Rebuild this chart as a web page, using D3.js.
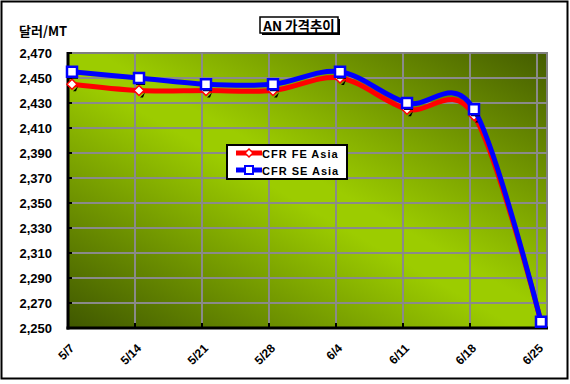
<!DOCTYPE html>
<html><head><meta charset="utf-8">
<script src="https://cdn.jsdelivr.net/npm/d3@7/dist/d3.min.js"></script>
<style>
html,body{margin:0;padding:0;background:#fff;}
svg{display:block;}
</style></head>
<body>
<svg id="c" width="570" height="384"></svg>
<script>
const categories = ["5/7","5/14","5/21","5/28","6/4","6/11","6/18","6/25"];
const cfrFE = [2445,2440,2440,2440,2450,2425,2420,2255];
const cfrSE = [2455,2450,2445,2445,2455,2430,2425,2255];
const yTicks = [2250,2270,2290,2310,2330,2350,2370,2390,2410,2430,2450,2470];
const seriesNames = ["CFR FE Asia","CFR SE Asia"];
const chartTitle = "AN 가격추이";
const yUnit = "달러/MT";

const svg = d3.select("#c");
const L = 68, R = 547, T = 53, B = 328;

const defs = svg.append("defs");
const g = defs.append("linearGradient").attr("id","bg")
  .attr("x1","0").attr("y1","1").attr("x2","1").attr("y2","0");
g.append("stop").attr("offset","0").attr("stop-color","#3f5700");
g.append("stop").attr("offset","0.47").attr("stop-color","#9ccc00");
g.append("stop").attr("offset","0.53").attr("stop-color","#9ccc00");
g.append("stop").attr("offset","1").attr("stop-color","#445c00");

// outer border
svg.append("rect").attr("x",1.5).attr("y",1.5).attr("width",566).attr("height",377)
  .attr("fill","#fff").attr("stroke","#000").attr("stroke-width",2);

const y = d3.scaleLinear().domain([2250,2470]).range([B,T]);
const x = d3.scalePoint().domain(categories).range([72,541]);
const xg = d3.scalePoint().domain(categories).range([68,537]);

// plot area
svg.append("rect").attr("x",L).attr("y",T).attr("width",R-L).attr("height",B-T)
  .attr("fill","url(#bg)").attr("stroke","#808080").attr("stroke-width",2);

// gridlines
svg.append("g").selectAll("line").data(yTicks.slice(1,-1)).join("line")
  .attr("x1",L).attr("x2",R).attr("y1",d=>y(d)).attr("y2",d=>y(d))
  .attr("stroke","#8a8a8a").attr("stroke-width",2);
svg.append("g").selectAll("line").data(categories.slice(1)).join("line")
  .attr("x1",d=>xg(d)).attr("x2",d=>xg(d)).attr("y1",T).attr("y2",B)
  .attr("stroke","#8a8a8a").attr("stroke-width",2);

// axes lines
svg.append("line").attr("x1",L).attr("x2",L).attr("y1",T-1).attr("y2",B+1.5)
  .attr("stroke","#000").attr("stroke-width",3);
svg.append("line").attr("x1",L-1.5).attr("x2",R+1).attr("y1",B).attr("y2",B)
  .attr("stroke","#000").attr("stroke-width",3);
// ticks
svg.append("g").selectAll("line").data(yTicks).join("line")
  .attr("x1",L).attr("x2",L+4).attr("y1",d=>y(d)).attr("y2",d=>y(d))
  .attr("stroke","#000").attr("stroke-width",2);
svg.append("g").selectAll("line").data(categories.slice(1)).join("line")
  .attr("x1",d=>xg(d)).attr("x2",d=>xg(d)).attr("y1",B).attr("y2",B-5)
  .attr("stroke","#000").attr("stroke-width",2);

// y labels
svg.append("g").selectAll("text").data(yTicks).join("text")
  .attr("x",52).attr("y",d=>y(d)+5).attr("text-anchor","end")
  .attr("font-family","Liberation Sans, Arial, sans-serif").attr("font-weight","bold")
  .attr("font-size",13).attr("fill","#000")
  .text(d=>d3.format(",")(d));

// x labels
svg.append("g").selectAll("text").data(categories).join("text")
  .attr("transform",d=>`translate(${x(d)+3},349) rotate(-45)`)
  .attr("text-anchor","end")
  .attr("font-family","Liberation Sans, Arial, sans-serif").attr("font-weight","bold")
  .attr("font-size",12).attr("fill","#000")
  .text(d=>d);

// y unit label
svg.append("text").attr("x",19).attr("y",36)
  .attr("font-family","Noto Sans CJK KR, sans-serif").attr("font-weight","bold")
  .attr("font-size",13).text(yUnit);

// title box
svg.append("rect").attr("x",262).attr("y",19).attr("width",78).attr("height",16)
  .attr("fill","#000");
svg.append("rect").attr("x",260).attr("y",17).attr("width",78).attr("height",16)
  .attr("fill","#fff").attr("stroke","#000").attr("stroke-width",1.5);
svg.append("text").attr("x",299).attr("y",30.5).attr("text-anchor","middle")
  .attr("font-family","Noto Sans CJK KR, sans-serif").attr("font-weight","bold")
  .attr("font-size",13.5).text(chartTitle);

const line = d3.line().x((d,i)=>x(categories[i])).y(d=>y(d))
  .curve(d3.curveCatmullRom.alpha(0));

function diamond(sel, cx, cy, s){
  return sel.append("path").attr("d",`M${cx},${cy-s}L${cx+s},${cy}L${cx},${cy+s}L${cx-s},${cy}Z`);
}

// red series
svg.append("path").datum(cfrFE).attr("d",line).attr("fill","none")
  .attr("stroke","#ff0000").attr("stroke-width",5).attr("stroke-linejoin","round");
const rm = svg.append("g");
cfrFE.forEach((v,i)=>{
  const cx = x(categories[i]), cy = y(v);
  rm.append("path").attr("d",`M${cx+1},${cy+7}L${cx+6},${cy+2}L${cx+4},${cy+7}Z`).attr("fill","#000");
  diamond(rm, cx, cy, 5).attr("fill","#fff").attr("stroke","#ff0000").attr("stroke-width",1.5);
});

// blue series
svg.append("path").datum(cfrSE).attr("d",line).attr("fill","none")
  .attr("stroke","#0000ff").attr("stroke-width",5).attr("stroke-linejoin","round");
const bm = svg.append("g");
cfrSE.forEach((v,i)=>{
  const cx = x(categories[i]), cy = y(v);
  bm.append("rect").attr("x",cx-3).attr("y",cy-2).attr("width",9).attr("height",9).attr("fill","#000");
  bm.append("rect").attr("x",cx-5).attr("y",cy-5).attr("width",10).attr("height",10)
    .attr("fill","#fff").attr("stroke","#0000ff").attr("stroke-width",2.5);
});

// legend
const lg = svg.append("g");
lg.append("rect").attr("x",227).attr("y",145).attr("width",120).attr("height",34)
  .attr("fill","#fff").attr("stroke","#000").attr("stroke-width",2);
const ly = [153,170];
const lcol = ["#ff0000","#0000ff"];
seriesNames.forEach((n,i)=>{
  lg.append("line").attr("x1",236).attr("x2",262).attr("y1",ly[i]).attr("y2",ly[i])
    .attr("stroke",lcol[i]).attr("stroke-width",5);
  if(i===0){
    diamond(lg, 249, ly[i], 4).attr("fill","#fff").attr("stroke","#ff0000").attr("stroke-width",1.5);
  } else {
    lg.append("rect").attr("x",245).attr("y",ly[i]-4).attr("width",8).attr("height",8)
      .attr("fill","#fff").attr("stroke","#0000ff").attr("stroke-width",2);
  }
  lg.append("text").attr("x",262).attr("y",ly[i]+4.5)
    .attr("font-family","Liberation Sans, Arial, sans-serif").attr("font-weight","bold")
    .attr("font-size",11).attr("letter-spacing",1).text(n);
});
</script>
</body></html>
